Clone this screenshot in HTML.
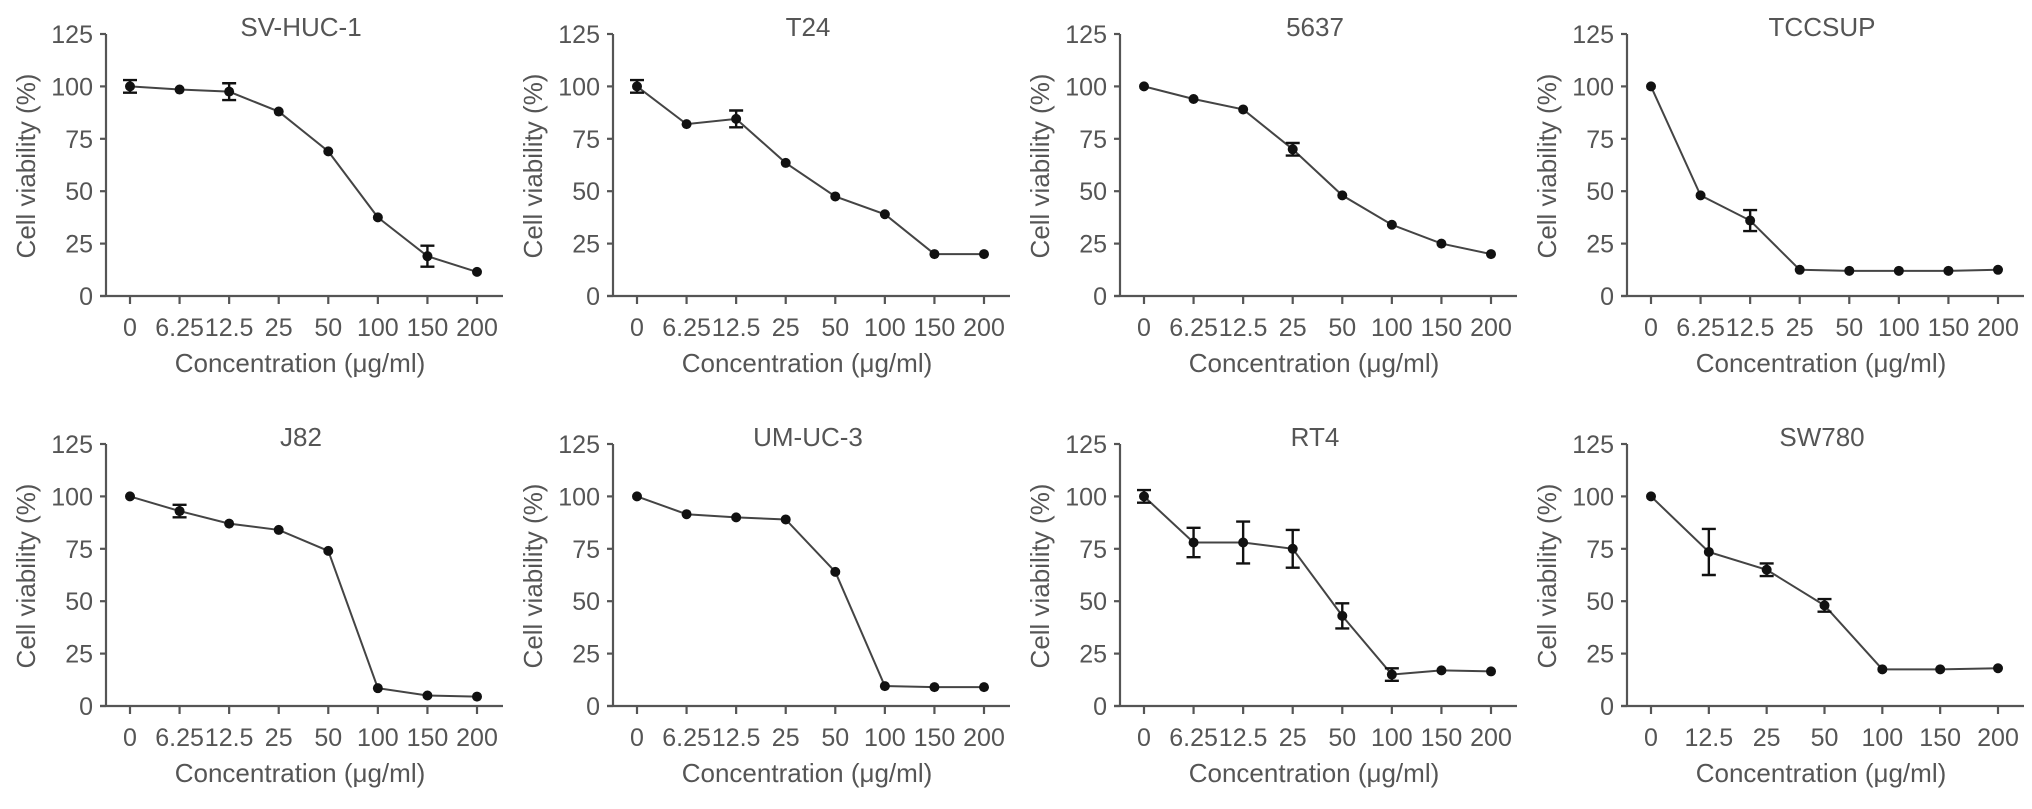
<!DOCTYPE html>
<html><head><meta charset="utf-8"><style>
html,body{margin:0;padding:0;background:#fff;}
svg text{font-family:"Liberation Sans",sans-serif;fill:#555;}
</style></head><body>
<svg id="chart" width="2032" height="804" xmlns="http://www.w3.org/2000/svg"></svg>
<script>
const titles = ["SV-HUC-1","T24","5637","TCCSUP","J82","UM-UC-3","RT4","SW780"];
const cats8 = ["0","6.25","12.5","25","50","100","150","200"];
const cats7 = ["0","12.5","25","50","100","150","200"];
const yTicks = [0,25,50,75,100,125];
const v0 = [100,98.5,97.5,88,69,37.5,19,11.5];
const e0 = [3,0,4,0,0,0,5,0];
const v1 = [100,82,84.5,63.5,47.5,39,20,20];
const e1 = [3,0,4,0,0,0,0,0];
const v2 = [100,94,89,70,48,34,25,20];
const e2 = [0,0,0,3,0,0,0,0];
const v3 = [100,48,36,12.5,12,12,12,12.5];
const e3 = [0,0,5,0,0,0,0,0];
const v4 = [100,93,87,84,74,8.5,5,4.5];
const e4 = [0,3,0,0,0,0,0,0];
const v5 = [100,91.5,90,89,64,9.5,9,9];
const e5 = [0,0,0,0,0,0,0,0];
const v6 = [100,78,78,75,43,15,17,16.5];
const e6 = [3,7,10,9,6,3,0,0];
const v7 = [100,73.5,65,48,17.5,17.5,18];
const e7 = [0,11,3,3,0,0,0];
const values = [v0,v1,v2,v3,v4,v5,v6,v7];
const errs = [e0,e1,e2,e3,e4,e5,e6,e7];
const catsList = [cats8,cats8,cats8,cats8,cats8,cats8,cats8,cats7];

const NS="http://www.w3.org/2000/svg";
const svg=document.getElementById('chart');
function mk(tag,attrs,parent){const e=document.createElementNS(NS,tag);for(const k in attrs)e.setAttribute(k,attrs[k]);(parent||svg).appendChild(e);return e;}

for(let p=0;p<8;p++){
  const ox=(p%4)*507, oy=Math.floor(p/4)*410;
  const g=mk('g',{transform:`translate(${ox},${oy})`});
  
  
  const ax=106, y0=296, xL=130, xR=477;
  const ys=v=>y0-v*(296-34)/125;
  const cats=catsList[p];
  const xs=i=>xL+i*(xR-xL)/(cats.length-1);
  let t=mk('text',{x:301,y:36,'font-size':26,'text-anchor':'middle'},g);t.textContent=titles[p];
  
  
  let a=mk('path',{d:`M${ax},${34}V${y0}M100,${y0}H503`,stroke:'#555','stroke-width':2.2,fill:'none'},g);
  
  
  yTicks.forEach(v=>{
    mk('line',{x1:100,x2:ax,y1:ys(v),y2:ys(v),stroke:'#555','stroke-width':2.2},g);
    const tt=mk('text',{x:93,y:ys(v)+9,'font-size':25,'text-anchor':'end'},g);tt.textContent=v;
    
    
  });
  cats.forEach((c,i)=>{
    mk('line',{x1:xs(i),x2:xs(i),y1:y0,y2:y0+8,stroke:'#555','stroke-width':2.2},g);
    const tt=mk('text',{x:xs(i),y:336,'font-size':25,'text-anchor':'middle'},g);tt.textContent=c;
    
    
  });
  t=mk('text',{x:300,y:372,'font-size':26,'text-anchor':'middle'},g);t.textContent='Concentration (μg/ml)';
  
  
  t=mk('text',{x:0,y:0,'font-size':26,'text-anchor':'middle',transform:`translate(35,166) rotate(-90)`},g);t.textContent='Cell viability (%)';
  
  
  const vals=values[p], er=errs[p];
  const ln=mk('polyline',{points:vals.map((v,i)=>xs(i)+','+ys(v)).join(' '),fill:'none',stroke:'#444','stroke-width':2},g);
  
  
  vals.forEach((v,i)=>{
    if(er[i]>0){
      const x=xs(i),a1=ys(v+er[i]),a2=ys(v-er[i]);
      const eb=mk('path',{d:`M${x},${a1}V${a2}M${x-7},${a1}H${x+7}M${x-7},${a2}H${x+7}`,stroke:'#111','stroke-width':2.4,fill:'none'},g);
      
      
    }
    const c=mk('circle',{cx:xs(i),cy:ys(v),r:5,fill:'#111'},g);
    
    
  });
}
</script>
</body></html>
